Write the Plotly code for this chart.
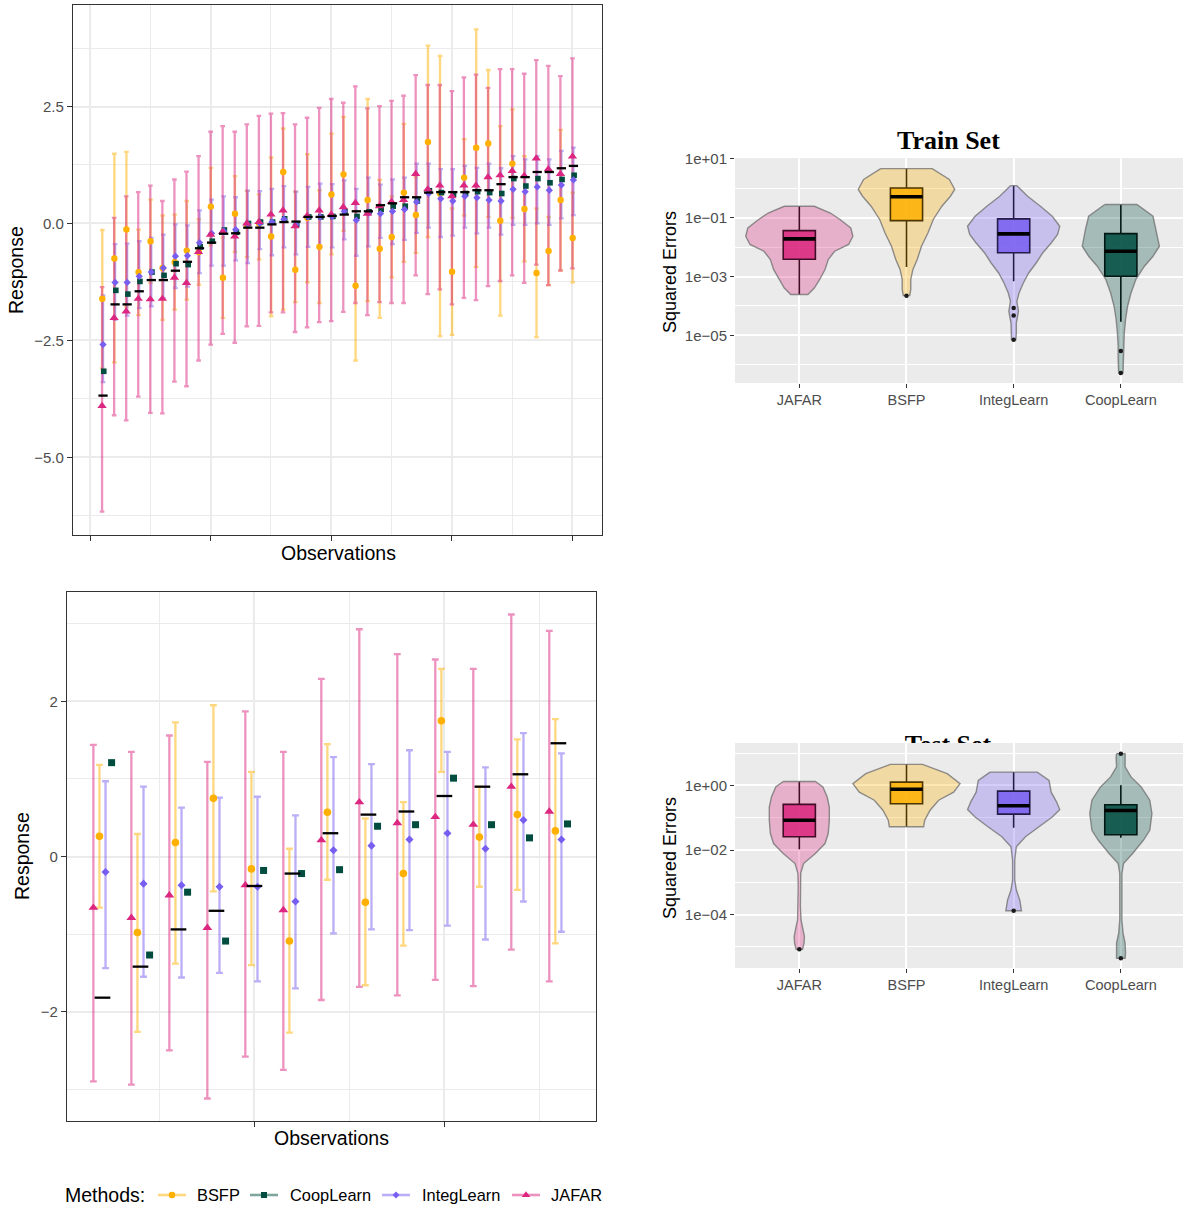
import numpy as np
import plotly.graph_objects as go

W, H = 1183, 1206
FONT = "Liberation Sans, Arial, sans-serif"

methods = ["JAFAR", "BSFP", "IntegLearn", "CoopLearn"]
legend_order = ["BSFP", "CoopLearn", "IntegLearn", "JAFAR"]
colors = {"JAFAR": "#DC267F", "BSFP": "#FFB000", "IntegLearn": "#785EF0", "CoopLearn": "#004D40"}
symbols = {"JAFAR": "triangle-up", "BSFP": "circle", "IntegLearn": "diamond", "CoopLearn": "square"}

# ---------------- Train set predictions (40 observations) ----------------
truth_tr = [-3.68, -1.73, -1.73, -1.45, -1.21, -1.21, -1.01, -0.82, -0.53, -0.41,
            -0.22, -0.21, -0.09, -0.09, -0.02, 0.03, 0.04, 0.14, 0.14, 0.16,
            0.19, 0.26, 0.26, 0.39, 0.43, 0.56, 0.56, 0.66, 0.67, 0.67,
            0.67, 0.71, 0.71, 0.84, 0.99, 0.99, 1.10, 1.10, 1.18, 1.23]
jafar_tr = [-3.90, -2.02, -1.88, -1.61, -1.62, -1.61, -1.16, -1.27, -0.61, -0.24,
            -0.18, -0.28, 0.00, 0.03, 0.19, 0.28, -0.06, 0.16, 0.28, 0.19,
            0.35, 0.44, 0.21, 0.37, 0.46, 0.50, 1.06, 0.73, 0.81, 0.58,
            0.81, 0.81, 0.99, 1.03, 1.12, 1.02, 1.39, 1.16, 1.06, 1.43]
jafar_tr_lo = [-6.16, -4.10, -4.21, -3.70, -4.05, -4.06, -3.38, -3.48, -2.93, -2.59,
               -2.36, -2.55, -2.20, -2.19, -1.90, -1.90, -2.32, -2.22, -2.11, -2.09,
               -1.89, -1.70, -1.96, -1.68, -1.70, -1.70, -1.11, -1.51, -1.41, -1.73,
               -1.59, -1.64, -1.34, -1.23, -1.11, -1.27, -0.88, -1.32, -1.01, -0.96]
jafar_tr_hi = [-1.36, 0.12, 0.58, 0.67, 0.81, 0.48, 0.94, 1.11, 1.44, 1.96,
               2.08, 1.96, 2.12, 2.30, 2.35, 2.36, 2.12, 2.26, 2.47, 2.66,
               2.58, 2.93, 2.46, 2.51, 2.62, 2.73, 3.17, 2.96, 2.96, 2.83,
               3.12, 3.18, 2.90, 3.30, 3.30, 3.20, 3.49, 3.37, 3.15, 3.53]
bsfp_tr = [-1.61, -0.75, -0.13, -1.04, -0.38, -0.95, -0.83, -0.58, -0.61, 0.36,
           -1.16, 0.21, -0.05, 0.00, -0.28, 1.10, -0.99, 0.12, -0.50, 0.62,
           1.05, -1.33, 0.50, -0.54, -0.29, 0.66, 0.18, 1.74, 0.64, -1.03,
           0.98, 1.62, 1.71, 0.06, 1.28, 0.31, -1.06, -0.59, 0.50, -0.31]
bsfp_tr_lo = [-3.10, -2.97, -1.79, -1.96, -1.27, -2.06, -1.84, -1.63, -1.31, -0.47,
              -2.02, -0.61, -0.72, -0.77, -1.98, -1.84, -1.68, -1.26, -1.70, -0.66,
              -0.16, -2.93, -1.66, -2.02, -1.15, -0.82, -0.63, -0.29, -2.41, -2.38,
              0.17, -0.93, 0.14, -1.97, 0.12, -0.81, -2.43, -1.32, -1.00, -1.26]
bsfp_tr_hi = [-0.14, 1.49, 1.53, -0.13, 0.51, 0.17, 0.19, 0.48, 0.09, 1.19,
              -0.30, 1.01, 0.69, 0.62, 1.41, 2.03, 0.68, 1.48, 0.71, 1.92,
              2.28, 0.27, 2.66, 0.93, 0.58, 2.13, 0.99, 3.80, 3.58, 0.32,
              1.80, 4.15, 3.28, 2.08, 2.44, 1.44, 0.32, 0.14, 2.00, 0.66]
integ_tr = [-2.59, -1.26, -1.26, -1.13, -1.04, -0.95, -0.70, -0.69, -0.41, -0.21,
            -0.16, -0.13, -0.02, 0.00, 0.03, 0.09, -0.02, 0.14, 0.14, 0.15,
            0.26, 0.07, 0.22, 0.21, 0.26, 0.30, 0.46, 0.64, 0.53, 0.48,
            0.58, 0.55, 0.50, 0.48, 0.73, 0.68, 0.78, 0.71, 0.82, 0.93]
integ_tr_lo = [-3.39, -2.06, -1.97, -1.81, -1.77, -1.60, -1.38, -1.35, -1.06, -0.90,
               -0.90, -0.79, -0.85, -0.55, -0.68, -0.51, -0.66, -0.50, -0.50, -0.51,
               -0.34, -0.69, -0.49, -0.31, -0.44, -0.35, -0.20, -0.09, -0.29, -0.26,
               -0.09, -0.21, -0.09, -0.24, -0.03, -0.03, 0.00, -0.03, 0.11, 0.18]
integ_tr_hi = [-1.54, -0.44, -0.43, -0.38, -0.31, -0.24, -0.02, -0.04, 0.28, 0.51,
               0.58, 0.56, 0.70, 0.69, 0.74, 0.80, 0.68, 0.78, 0.85, 0.84,
               0.92, 0.74, 0.98, 0.83, 0.94, 0.98, 1.28, 1.28, 1.16, 1.16,
               1.23, 1.19, 1.28, 1.18, 1.44, 1.37, 1.44, 1.37, 1.55, 1.62]
coop_tr = [-3.16, -1.43, -1.51, -1.24, -1.04, -1.11, -0.86, -0.88, -0.50, -0.38,
           -0.14, -0.19, 0.00, 0.03, 0.03, 0.10, -0.02, 0.14, 0.14, 0.15,
           0.26, 0.15, 0.25, 0.30, 0.37, 0.37, 0.48, 0.70, 0.66, 0.62,
           0.64, 0.68, 0.66, 0.64, 0.96, 0.80, 0.96, 0.87, 0.94, 1.03]

# ---------------- Test set predictions (13 observations) ----------------
truth_te = [-1.82, -1.42, -0.94, -0.70, -0.38, -0.22, 0.30, 0.54, 0.58, 0.78, 0.90, 1.06, 1.46]
jafar_te = [-0.66, -0.79, -0.50, -0.92, -0.37, -0.69, 0.21, 0.70, 0.43, 0.51, 0.41, 0.90, 0.58]
jafar_te_lo = [-2.90, -2.94, -2.50, -3.12, -2.58, -2.75, -1.85, -1.68, -1.79, -1.59, -1.67, -1.20, -1.61]
jafar_te_hi = [1.44, 1.35, 1.56, 1.22, 1.87, 1.35, 2.29, 2.93, 2.61, 2.54, 2.42, 3.12, 2.91]
bsfp_te = [0.26, -0.98, 0.18, 0.75, -0.16, -1.09, 0.57, -0.59, -0.22, 1.75, 0.25, 0.54, 0.33]
bsfp_te_lo = [-0.66, -2.26, -1.38, -0.45, -1.40, -2.27, -0.30, -1.66, -1.15, 1.09, -0.39, -0.43, -1.12]
bsfp_te_hi = [1.18, 0.29, 1.73, 1.95, 1.09, 0.10, 1.45, 0.49, 0.70, 2.42, 0.90, 1.51, 1.77]
integ_te = [-0.20, -0.35, -0.37, -0.39, -0.39, -0.58, 0.08, 0.14, 0.22, 0.30, 0.10, 0.47, 0.22]
integ_te_lo = [-1.44, -1.55, -1.56, -1.50, -1.61, -1.70, -0.99, -0.94, -0.95, -0.89, -1.07, -0.58, -0.97]
integ_te_hi = [0.97, 0.90, 0.63, 0.76, 0.77, 0.53, 1.28, 1.19, 1.37, 1.35, 1.15, 1.59, 1.33]
coop_te = [1.21, -1.27, -0.46, -1.09, -0.18, -0.22, -0.17, 0.39, 0.41, 1.01, 0.41, 0.24, 0.42]

# ---------------- Squared-error distributions (box statistics) ----------------
# order: JAFAR, BSFP, IntegLearn, CoopLearn
tr_upper = [0.245, 4.68, 1.23, 0.282]
tr_q3 = [0.0363, 1.02, 0.0912, 0.0288]
tr_median = [0.0191, 0.513, 0.0282, 0.00724]
tr_q1 = [0.00389, 0.0794, 0.00646, 0.00102]
tr_lower = [0.000245, 0.00209, 0.000692, 2.9e-5]
tr_outliers = [[], [0.000224], [8.5e-5, 4.7e-5, 7.1e-6], [2.95e-6, 5.2e-7]]

te_upper = [1.32, 4.47, 2.57, 1.0]
te_q3 = [0.257, 1.26, 0.661, 0.251]
te_median = [0.0832, 0.759, 0.234, 0.166]
te_q1 = [0.0257, 0.269, 0.129, 0.0295]
te_lower = [0.0105, 0.0525, 0.049, 0.024]
te_outliers = [[8.5e-6], [], [1.32e-4], [9.55, 4.5e-6]]

# violin outlines: log10(squared error) levels and half-widths (category units)
tr_violin_levels = {
    "JAFAR": [-0.61, -0.84, -1.06, -1.35, -1.63, -1.91, -2.14, -2.42, -2.76, -3.10, -3.39, -3.61],
    "BSFP": [0.67, 0.30, -0.04, -0.27, -0.61, -1.06, -1.52, -1.97, -2.42, -2.76, -3.10, -3.44, -3.65],
    "IntegLearn": [0.09, -0.27, -0.61, -0.95, -1.29, -1.57, -1.86, -2.20, -2.54, -2.88, -3.22, -3.56,
                   -3.84, -4.18, -4.58, -4.92, -5.15],
    "CoopLearn": [-0.55, -0.95, -1.40, -1.97, -2.31, -2.65, -3.10, -3.56, -4.01, -4.46, -4.92, -5.37,
                  -5.83, -6.28],
}
tr_violin_hw = {
    "JAFAR": [0.14, 0.29, 0.38, 0.48, 0.50, 0.46, 0.33, 0.27, 0.24, 0.19, 0.14, 0.08],
    "BSFP": [0.24, 0.40, 0.45, 0.41, 0.33, 0.25, 0.20, 0.14, 0.10, 0.06, 0.04, 0.04, 0.03],
    "IntegLearn": [0.03, 0.13, 0.25, 0.36, 0.43, 0.41, 0.35, 0.27, 0.21, 0.14, 0.09, 0.05,
                   0.03, 0.045, 0.025, 0.025, 0.02],
    "CoopLearn": [0.15, 0.30, 0.33, 0.36, 0.30, 0.22, 0.14, 0.095, 0.063, 0.044, 0.032, 0.025,
                  0.025, 0.02],
}
te_violin_levels = {
    "JAFAR": [0.12, -0.05, -0.36, -0.67, -1.08, -1.49, -1.80, -2.11, -2.42, -2.72, -3.13, -3.75,
              -4.16, -4.37, -4.68, -4.88, -5.07],
    "BSFP": [0.65, 0.36, 0.05, -0.21, -0.46, -0.77, -1.08, -1.28],
    "IntegLearn": [0.41, 0.15, -0.21, -0.51, -0.75, -0.98, -1.28, -1.59, -1.90, -2.31, -2.93, -3.24,
                   -3.55, -3.88],
    "CoopLearn": [0.98, 0.87, 0.57, 0.26, -0.05, -0.46, -0.87, -1.39, -1.70, -2.11, -2.42, -2.72,
                  -4.16, -4.57, -4.88, -5.19, -5.35],
}
te_violin_hw = {
    "JAFAR": [0.15, 0.22, 0.26, 0.28, 0.28, 0.27, 0.24, 0.15, 0.04, 0.013, 0.01, 0.01,
              0.016, 0.03, 0.048, 0.044, 0.03],
    "BSFP": [0.15, 0.38, 0.50, 0.44, 0.30, 0.22, 0.17, 0.16],
    "IntegLearn": [0.22, 0.33, 0.35, 0.40, 0.43, 0.36, 0.24, 0.11, 0.025, 0.01, 0.01, 0.025,
                   0.057, 0.073],
    "CoopLearn": [0.04, 0.044, 0.04, 0.095, 0.19, 0.27, 0.29, 0.27, 0.21, 0.11, 0.025, 0.01,
                  0.01, 0.02, 0.04, 0.044, 0.04],
}


def rgba(h, a):
    h = h.lstrip("#")
    return f"rgba({int(h[0:2], 16)},{int(h[2:4], 16)},{int(h[4:6], 16)},{a})"


def dom_x(a, b):
    return [a / W, b / W]


def dom_y(top, bottom):
    return [1 - bottom / H, 1 - top / H]


fig = go.Figure()


def add_pred_panel(xa, ya, truth, data, offsets, msize, capw, dash_size):
    n = len(truth)
    x = np.arange(1, n + 1, dtype=float)
    # error bars (alphabetical draw order)
    for m in ["BSFP", "IntegLearn", "JAFAR"]:
        pt, lo, hi = (np.array(v, dtype=float) for v in data[m])
        fig.add_trace(go.Scatter(
            x=x + offsets[m], y=pt, mode="markers", xaxis=xa, yaxis=ya,
            marker=dict(size=2, opacity=0, color=colors[m]),
            error_y=dict(type="data", symmetric=False, array=hi - pt, arrayminus=pt - lo,
                         color=rgba(colors[m], 0.5), thickness=2.3, width=capw),
            hoverinfo="skip", showlegend=False))
    for m in legend_order:
        pt = np.array(data[m][0], dtype=float)
        fig.add_trace(go.Scatter(
            x=x + offsets[m], y=pt, mode="markers", xaxis=xa, yaxis=ya,
            marker=dict(symbol=symbols[m], size=msize[m], color=colors[m], line=dict(width=0)),
            hoverinfo="skip", showlegend=False))
    fig.add_trace(go.Scatter(
        x=x + offsets["truth"], y=truth, mode="markers", xaxis=xa, yaxis=ya,
        marker=dict(symbol="line-ew", size=dash_size, color="black",
                    line=dict(color="black", width=2.3)),
        hoverinfo="skip", showlegend=False))


train_data = {
    "JAFAR": (jafar_tr, jafar_tr_lo, jafar_tr_hi),
    "BSFP": (bsfp_tr, bsfp_tr_lo, bsfp_tr_hi),
    "IntegLearn": (integ_tr, integ_tr_lo, integ_tr_hi),
    "CoopLearn": (coop_tr,),
}
test_data = {
    "JAFAR": (jafar_te, jafar_te_lo, jafar_te_hi),
    "BSFP": (bsfp_te, bsfp_te_lo, bsfp_te_hi),
    "IntegLearn": (integ_te, integ_te_lo, integ_te_hi),
    "CoopLearn": (coop_te,),
}

add_pred_panel("x", "y", truth_tr, train_data,
               {"JAFAR": 0.0, "BSFP": 0.02, "IntegLearn": 0.08, "CoopLearn": 0.14, "truth": 0.08},
               {"JAFAR": 8.2, "BSFP": 6.4, "IntegLearn": 5.6, "CoopLearn": 5.6}, 2.3, 6.6)
add_pred_panel("x3", "y3", truth_te, test_data,
               {"JAFAR": -0.24, "BSFP": -0.08, "IntegLearn": 0.08, "CoopLearn": 0.24, "truth": 0.0},
               {"JAFAR": 8.6, "BSFP": 7.6, "IntegLearn": 6.2, "CoopLearn": 7.0}, 3.4, 11.2)


def add_violin_panel(xa, ya, levels, hws, upper, q3, med, q1, lower, outliers):
    for i, m in enumerate(methods):
        c = i + 1
        lv = 10 ** np.array(levels[m], dtype=float)
        hw = np.array(hws[m], dtype=float)
        xs = np.concatenate([c - hw, (c + hw)[::-1], [c - hw[0]]])
        ys = np.concatenate([lv, lv[::-1], [lv[0]]])
        fig.add_trace(go.Scatter(
            x=xs, y=ys, mode="lines", fill="toself", xaxis=xa, yaxis=ya,
            fillcolor=rgba(colors[m], 0.3), line=dict(color="rgba(110,110,110,0.75)", width=1.4),
            hoverinfo="skip", showlegend=False))
        fig.add_trace(go.Box(
            x=[c], q1=[q1[i]], median=[med[i]], q3=[q3[i]],
            lowerfence=[lower[i]], upperfence=[upper[i]],
            width=0.3, whiskerwidth=0, boxpoints=False, xaxis=xa, yaxis=ya,
            fillcolor=rgba(colors[m], 0.85), line=dict(color="black", width=1.6),
            hoverinfo="skip", showlegend=False))
        fig.add_trace(go.Scatter(
            x=[c - 0.15, c + 0.15], y=[med[i], med[i]], mode="lines", xaxis=xa, yaxis=ya,
            line=dict(color="black", width=3.6), hoverinfo="skip", showlegend=False))
        if outliers[i]:
            fig.add_trace(go.Scatter(
                x=[c] * len(outliers[i]), y=outliers[i], mode="markers", xaxis=xa, yaxis=ya,
                marker=dict(color="#1a1a1a", size=4.5), hoverinfo="skip", showlegend=False))


add_violin_panel("x2", "y2", tr_violin_levels, tr_violin_hw,
                 tr_upper, tr_q3, tr_median, tr_q1, tr_lower, tr_outliers)
add_violin_panel("x4", "y4", te_violin_levels, te_violin_hw,
                 te_upper, te_q3, te_median, te_q1, te_lower, te_outliers)

# ---------------- legend (drawn on a pixel-coordinate overlay axis) ----------------
legend_pos = {"BSFP": (158, 195), "CoopLearn": (250, 288), "IntegLearn": (382, 420), "JAFAR": (512, 549)}
leg_sizes = {"BSFP": 6.5, "CoopLearn": 6, "IntegLearn": 5.2, "JAFAR": 7.5}
LEG_Y = 1195
for m in legend_order:
    x0, tx = legend_pos[m]
    fig.add_trace(go.Scatter(
        x=[x0, x0 + 28], y=[LEG_Y, LEG_Y], mode="lines", xaxis="x5", yaxis="y5",
        line=dict(color=rgba(colors[m], 0.5), width=2.6), cliponaxis=False,
        hoverinfo="skip", showlegend=False))
    fig.add_trace(go.Scatter(
        x=[x0 + 14], y=[LEG_Y], mode="markers", xaxis="x5", yaxis="y5",
        marker=dict(symbol=symbols[m], size=leg_sizes[m], color=colors[m]), cliponaxis=False,
        hoverinfo="skip", showlegend=False))

# clipped "Test Set" title (partly hidden under the panel)
fig.add_trace(go.Scatter(
    x=[948], y=[746], mode="text", text=["<b>Test Set</b>"], xaxis="x6", yaxis="y6",
    textfont=dict(family="Liberation Serif, serif", size=26, color="black"),
    textposition="middle center", cliponaxis=True, hoverinfo="skip", showlegend=False))

# ---------------- axes ----------------
GRID = "#EBEBEB"
border = dict(showline=True, mirror=True, linecolor="#333333", linewidth=1.3, zeroline=False,
              automargin=False)
tickstyle = dict(ticks="outside", ticklen=5, tickwidth=1.2, tickcolor="#333333",
                 tickfont=dict(family=FONT, size=15, color="#4D4D4D"))

layout_axes = dict(
    xaxis=dict(domain=dom_x(73, 602), anchor="y", range=[-1.41, 42.45],
               tickmode="array", tickvals=[0, 10, 20, 30, 40], showticklabels=False,
               showgrid=True, gridcolor=GRID, gridwidth=1.6,
               minor=dict(tickmode="array", tickvals=[5, 15, 25, 35], showgrid=True,
                          gridcolor=GRID, gridwidth=1.0, ticks=""),
               **border, **tickstyle),
    yaxis=dict(domain=dom_y(5, 535), anchor="x", range=[-6.66, 4.67],
               tickmode="array", tickvals=[-5, -2.5, 0, 2.5],
               ticktext=["\u22125.0", "\u22122.5", "0.0", "2.5"],
               showgrid=True, gridcolor=GRID, gridwidth=1.6,
               minor=dict(tickmode="array", tickvals=[-6.25, -3.75, -1.25, 1.25, 3.75],
                          showgrid=True, gridcolor=GRID, gridwidth=1.0, ticks=""),
               **border, **tickstyle),
    xaxis3=dict(domain=dom_x(67, 596), anchor="y3", range=[0.066, 13.99],
                tickmode="array", tickvals=[5, 10], showticklabels=False,
                showgrid=True, gridcolor=GRID, gridwidth=1.6,
                minor=dict(tickmode="array", tickvals=[2.5, 7.5, 12.5], showgrid=True,
                           gridcolor=GRID, gridwidth=1.0, ticks=""),
                **border, **tickstyle),
    yaxis3=dict(domain=dom_y(592, 1121), anchor="x3", range=[-3.41, 3.41],
                tickmode="array", tickvals=[-2, 0, 2], ticktext=["\u22122", "0", "2"],
                showgrid=True, gridcolor=GRID, gridwidth=1.6,
                minor=dict(tickmode="array", tickvals=[-3, -1, 1, 3], showgrid=True,
                           gridcolor=GRID, gridwidth=1.0, ticks=""),
                **border, **tickstyle),
)

vtick = dict(ticks="outside", ticklen=4, tickwidth=1.2, tickcolor="#333333", zeroline=False,
             showline=False, automargin=False)
for xa, ya, top, bot, yr, yt, ytt, ymin in [
    ("xaxis2", "yaxis2", 158, 383, [-6.62, 1.03], [10, 0.1, 1e-3, 1e-5],
     ["1e+01", "1e\u221201", "1e\u221203", "1e\u221205"], [1, 1e-2, 1e-4, 1e-6]),
    ("xaxis4", "yaxis4", 743, 968, [-5.65, 1.31], [1, 1e-2, 1e-4],
     ["1e+00", "1e\u221202", "1e\u221204"], [10, 0.1, 1e-3, 1e-5]),
]:
    an = xa.replace("axis", "")
    anchor_y = ya.replace("axis", "")
    layout_axes[xa] = dict(domain=dom_x(735, 1183), anchor=anchor_y, range=[0.4, 4.58],
                           tickmode="array", tickvals=[1, 2, 3, 4], ticktext=methods,
                           tickfont=dict(family=FONT, size=14.5, color="#4D4D4D"),
                           showgrid=True, gridcolor="white", gridwidth=1.8, **vtick)
    layout_axes[ya] = dict(domain=dom_y(top, bot), anchor=an, type="log", range=yr,
                           tickmode="array", tickvals=yt, ticktext=ytt,
                           tickfont=dict(family=FONT, size=15, color="#4D4D4D"),
                           showgrid=True, gridcolor="white", gridwidth=1.8,
                           minor=dict(tickmode="array", tickvals=ymin, showgrid=True,
                                      gridcolor="white", gridwidth=0.9, ticks=""),
                           **vtick)

hidden = dict(visible=False, automargin=False, showgrid=False, zeroline=False)
layout_axes["xaxis5"] = dict(domain=[0, 1], anchor="y5", range=[0, W], **hidden)
layout_axes["yaxis5"] = dict(domain=[0, 1], anchor="x5", range=[H, 0], **hidden)
layout_axes["xaxis6"] = dict(domain=dom_x(735, 1183), anchor="y6", range=[735, 1183], **hidden)
layout_axes["yaxis6"] = dict(domain=dom_y(690, 743), anchor="x6", range=[743, 690], **hidden)

shapes = []
for xr, yr in [("x2", "y2"), ("x4", "y4")]:
    shapes.append(dict(type="rect", xref=f"{xr} domain", yref=f"{yr} domain",
                       x0=0, x1=1, y0=0, y1=1, fillcolor="#EBEBEB", line=dict(width=0),
                       layer="below"))

annotations = []


def ann(text, x, y, size, angle=0, xanchor="center", family=FONT, color="black"):
    annotations.append(dict(text=text, x=x / W, y=1 - y / H, xref="paper", yref="paper",
                            showarrow=False, textangle=angle, xanchor=xanchor, yanchor="middle",
                            font=dict(family=family, size=size, color=color)))


ann("Response", 16, 270, 19.5, angle=-90)
ann("Observations", 338, 553, 19.5)
ann("Response", 22, 856, 19.5, angle=-90)
ann("Observations", 331, 1138, 19.5)
ann("Squared Errors", 670, 272, 18, angle=-90)
ann("Squared Errors", 670, 858, 18, angle=-90)
ann("<b>Train Set</b>", 948, 140, 26, family="Liberation Serif, serif")
ann("Methods:", 63, LEG_Y, 19.5, xanchor="left")
for m in legend_order:
    ann(m, legend_pos[m][1], LEG_Y, 16.4, xanchor="left")

fig.update_layout(
    width=W, height=H, margin=dict(l=0, r=0, t=0, b=0, pad=0, autoexpand=False),
    paper_bgcolor="white", plot_bgcolor="rgba(0,0,0,0)",
    showlegend=False, shapes=shapes, annotations=annotations,
    font=dict(family=FONT),
    **layout_axes,
)

post = ("document.documentElement.style.margin='0';document.body.style.margin='0';"
        "document.body.style.overflow='hidden';document.documentElement.style.overflow='hidden';"
        "var gd=document.getElementById('{plot_id}');gd.style.position='absolute';"
        "gd.style.left='0px';gd.style.top='0px';")
fig.write_html("out.html", post_script=post, config={"displayModeBar": False})
